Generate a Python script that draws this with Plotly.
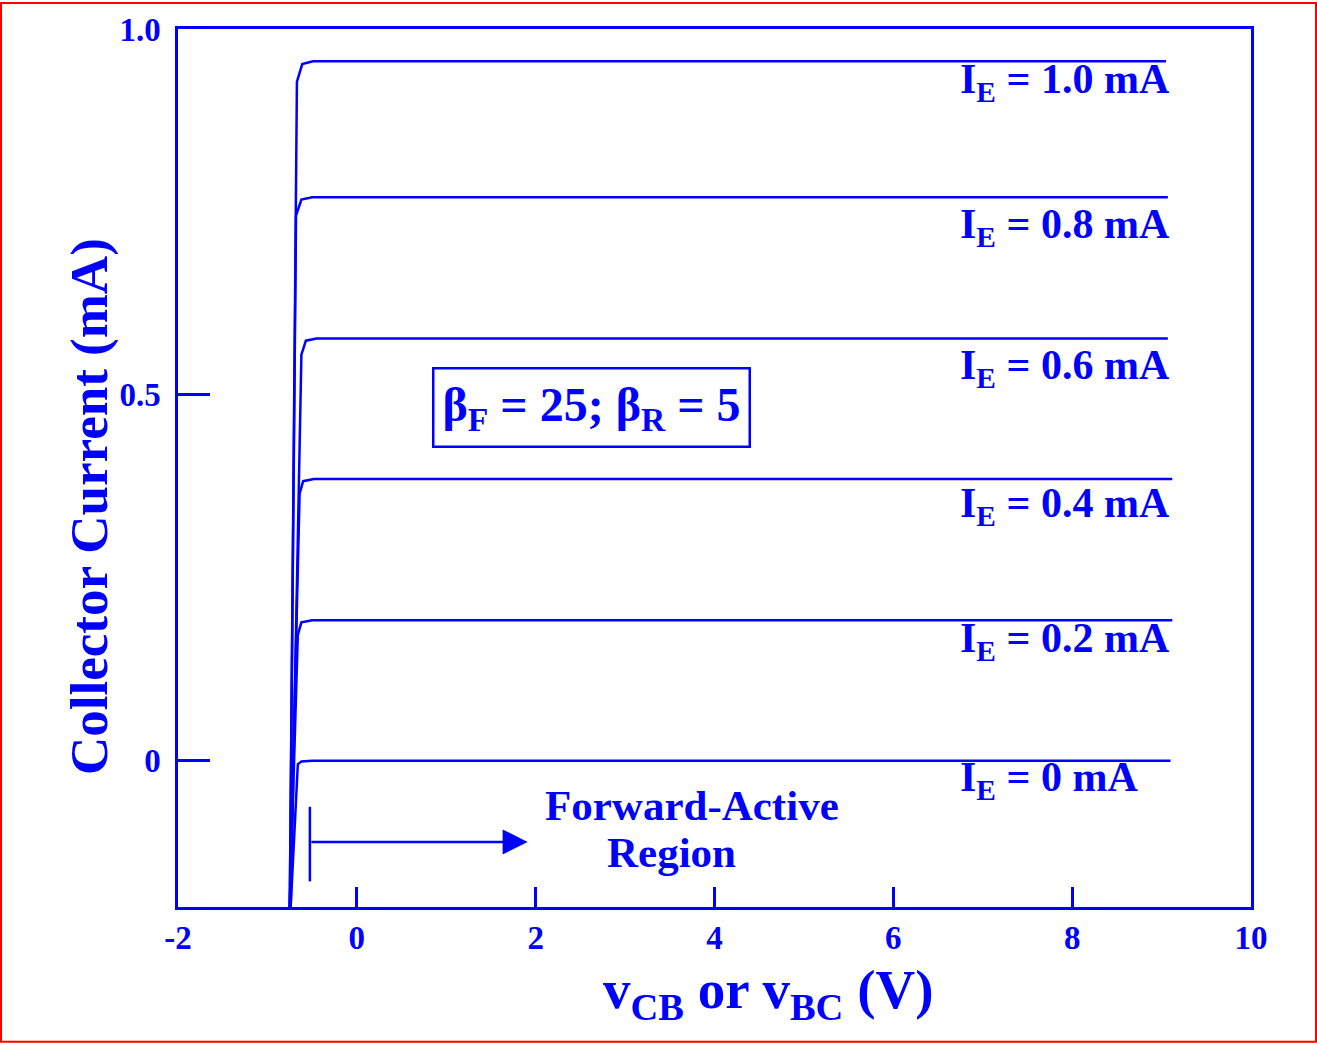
import plotly.graph_objects as go

# ---- data ----
emitter_currents = ["1.0", "0.8", "0.6", "0.4", "0.2", "0"]
curve_x = {
    "1.0": [-0.75, -0.67, -0.61, -0.49, 9.05],
    "0.8": [-0.75, -0.68, -0.62, -0.50, 9.07],
    "0.6": [-0.74, -0.62, -0.57, -0.45, 9.07],
    "0.4": [-0.75, -0.64, -0.60, -0.48, 9.12],
    "0.2": [-0.75, -0.66, -0.62, -0.50, 9.12],
    "0":   [-0.74, -0.66, -0.62, -0.50, 9.10],
}
curve_y = {
    "1.0": [-0.2, 0.928, 0.952, 0.956, 0.956],
    "0.8": [-0.2, 0.745, 0.767, 0.770, 0.770],
    "0.6": [-0.2, 0.555, 0.574, 0.577, 0.577],
    "0.4": [-0.2, 0.365, 0.382, 0.385, 0.385],
    "0.2": [-0.2, 0.172, 0.189, 0.192, 0.192],
    "0":   [-0.2, -0.005, -0.001, 0.0, 0.0],
}
label_y = {"1.0": 0.928, "0.8": 0.730, "0.6": 0.537, "0.4": 0.348, "0.2": 0.163, "0": -0.027}
x_ticks = [-2, 0, 2, 4, 6, 8, 10]
x_tick_text = ["-2", "0", "2", "4", "6", "8", "10"]
y_ticks = [0, 0.5, 1.0]
y_tick_text = ["0", "0.5", "1.0"]

BLUE = "#0000FF"
FONT = "Liberation Serif, Times New Roman, serif"

L, R, T, B = 178, 66, 27, 136
PW = 1317 - L - R
PH = 1043 - T - B

fig = go.Figure()
for ie in emitter_currents:
    fig.add_trace(go.Scatter(x=curve_x[ie], y=curve_y[ie], mode="lines",
                             line=dict(color=BLUE, width=2.5), showlegend=False,
                             hoverinfo="skip"))

for ie in emitter_currents:
    fig.add_annotation(x=6.72, y=label_y[ie], xref="x", yref="y",
                       text=f"I<sub>E</sub> = {ie} mA", showarrow=False,
                       xanchor="left", yanchor="middle",
                       font=dict(family=FONT, size=42, color=BLUE, weight="bold"))

# beta box
fig.add_annotation(x=2.62, y=0.483, xref="x", yref="y",
                   text="β<sub>F</sub> = 25; β<sub>R</sub> = 5", showarrow=False,
                   xanchor="center", yanchor="middle",
                   bordercolor=BLUE, borderwidth=2.5, borderpad=8, bgcolor="white",
                   font=dict(family=FONT, size=48, color=BLUE, weight="bold"))

# forward-active region marker
fig.add_shape(type="line", x0=-0.525, x1=-0.525, y0=-0.063, y1=-0.165,
              xref="x", yref="y", line=dict(color=BLUE, width=2.5))
fig.add_annotation(x=1.91, y=-0.111, ax=-0.525, ay=-0.111, xref="x", yref="y",
                   axref="x", ayref="y", text="", showarrow=True,
                   arrowhead=2, arrowsize=2, arrowwidth=2.5, arrowcolor=BLUE)
fig.add_annotation(x=3.75, y=-0.061, xref="x", yref="y", text="Forward-Active",
                   showarrow=False, xanchor="center", yanchor="middle",
                   font=dict(family=FONT, size=43, color=BLUE, weight="bold"))
fig.add_annotation(x=3.52, y=-0.125, xref="x", yref="y", text="Region",
                   showarrow=False, xanchor="center", yanchor="middle",
                   font=dict(family=FONT, size=43, color=BLUE, weight="bold"))

# axis titles
fig.add_annotation(x=(90 - L) / PW, y=(1043 - B - 506) / PH, xref="paper", yref="paper",
                   text="Collector Current (mA)", showarrow=False, textangle=-90,
                   xanchor="center", yanchor="middle",
                   font=dict(family=FONT, size=53, color=BLUE, weight="bold"))
fig.add_annotation(x=(768 - L) / PW, y=(1043 - B - 994) / PH, xref="paper", yref="paper",
                   text="v<sub>CB</sub> or v<sub>BC</sub> (V)", showarrow=False,
                   xanchor="center", yanchor="middle",
                   font=dict(family=FONT, size=55, color=BLUE, weight="bold"))

# red border around figure
fig.add_shape(type="rect", xref="paper", yref="paper",
              x0=(1 - L) / PW, x1=(1316 - L) / PW,
              y0=(1043 - B - 1042) / PH, y1=(1043 - B - 1) / PH,
              line=dict(color="#FF0000", width=2))

fig.update_xaxes(range=[-2, 10], tickvals=x_ticks, ticktext=x_tick_text,
                 ticks="inside", ticklen=20,
                 tickwidth=2.5, tickcolor=BLUE, showline=True, linecolor=BLUE,
                 linewidth=2.5, mirror=True, showgrid=False, zeroline=False,
                 tickfont=dict(family=FONT, size=33, color=BLUE, weight="bold"),
                 ticklabelstandoff=0)
fig.update_yaxes(range=[-0.2, 1.0], tickvals=y_ticks, ticktext=y_tick_text,
                 ticks="inside", ticklen=32, tickwidth=2.5, tickcolor=BLUE,
                 showline=True, linecolor=BLUE, linewidth=2.5, mirror=True,
                 showgrid=False, zeroline=False,
                 tickfont=dict(family=FONT, size=33, color=BLUE, weight="bold"),
                 ticklabelstandoff=8)

fig.update_layout(width=1317, height=1043, margin=dict(l=L, r=R, t=T, b=B),
                  plot_bgcolor="white", paper_bgcolor="white", showlegend=False)

fig.write_html("out.html", config={"displayModeBar": False},
               post_script="document.body.style.margin='0';document.body.style.overflow='hidden';")
